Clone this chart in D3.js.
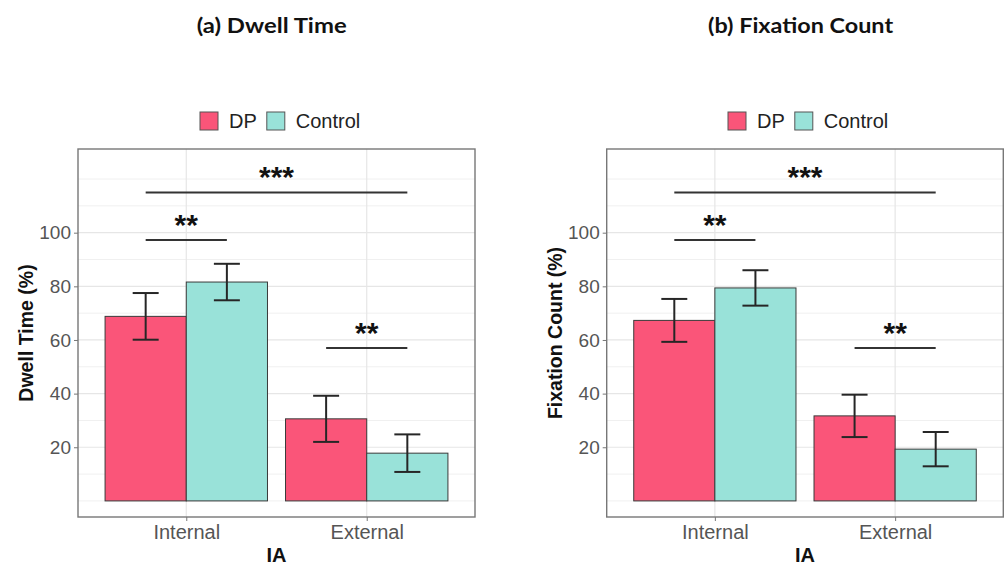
<!DOCTYPE html>
<html>
<head>
<meta charset="utf-8">
<script src="https://cdn.jsdelivr.net/npm/d3@7"></script>
<style>
  body { margin: 0; background: #fff; }
  svg { display: block; font-family: "Liberation Sans", Arial, sans-serif; }
</style>
</head>
<body>
<div id="chart"></div>
<script>
const categories = ["Internal", "External"];
const groups = ["DP", "Control"];

// (a) dwell time, mean and error half-width
const dwellDP = [68.8, 30.6];
const dwellDPErr = [8.7, 8.6];
const dwellControl = [81.6, 17.8];
const dwellControlErr = [6.8, 7.0];

// (b) fixation count
const fixDP = [67.3, 31.7];
const fixDPErr = [8.0, 7.9];
const fixControl = [79.4, 19.3];
const fixControlErr = [6.6, 6.4];

const yTicks = [20, 40, 60, 80, 100];
const gridTicks = [0, 10, 20, 30, 40, 50, 60, 70, 80, 90, 100, 110, 120];

const sigs = [
    { from: ["Internal", "DP"], to: ["External", "Control"], y: 115, label: "***" },
    { from: ["Internal", "DP"], to: ["Internal", "Control"], y: 97.3, label: "**" },
    { from: ["External", "DP"], to: ["External", "Control"], y: 57, label: "**" }
];

const colors = { DP: "#fa5579", Control: "#99e2d9" };

const panels = [
    { title: "(a) Dwell Time", titleX: 271.7, titleW: 150, yLabel: "Dwell Time (%)", yLabelX: 25.7,
      left: 78, right: 475, legendX: 200,
      series: { DP: [dwellDP, dwellDPErr], Control: [dwellControl, dwellControlErr] } },
    { title: "(b) Fixation Count", titleX: 800.6, titleW: 185, yLabel: "Fixation Count (%)", yLabelX: 555,
      left: 606.7, right: 1003.3, legendX: 728,
      series: { DP: [fixDP, fixDPErr], Control: [fixControl, fixControlErr] } }
];

const svg = d3.select("#chart")
    .append("svg")
    .attr("width", 1005)
    .attr("height", 565);

const plotTop = 149, plotBottom = 517;

panels.forEach(p => {
    const x = d3.scalePoint()
        .domain(categories)
        .range([p.left, p.right])
        .padding(0.6);
    const step = x.step();
    const xg = d3.scaleBand()
        .domain(groups)
        .range([-0.45 * step, 0.45 * step]);
    const bw = xg.bandwidth();

    const y = d3.scaleLinear()
        .domain([-6, 131.2])
        .range([plotBottom, plotTop]);

    const g = svg.append("g");

    // title
    g.append("text")
        .attr("x", p.titleX)
        .attr("y", 33)
        .attr("text-anchor", "middle")
        .attr("textLength", p.titleW)
        .attr("lengthAdjust", "spacingAndGlyphs")
        .style("font-family", "Lato, 'Open Sans', sans-serif")
        .style("font-weight", "bold")
        .style("font-size", "21px")
        .style("fill", "#111")
        .text(p.title);

    // grid
    g.selectAll(".hgrid")
        .data(gridTicks)
        .join("line")
        .attr("x1", p.left).attr("x2", p.right)
        .attr("y1", d => y(d)).attr("y2", d => y(d))
        .style("stroke", d => yTicks.includes(d) ? "#e6e6e6" : "#f0f0f0")
        .style("stroke-width", d => yTicks.includes(d) ? 1.2 : 1);

    g.selectAll(".vgrid")
        .data(categories)
        .join("line")
        .attr("x1", d => x(d)).attr("x2", d => x(d))
        .attr("y1", plotTop).attr("y2", plotBottom)
        .style("stroke", "#e6e6e6")
        .style("stroke-width", 1.2);

    // bars
    const rows = [];
    categories.forEach((c, i) => {
        groups.forEach(k => {
            rows.push({ cat: c, grp: k, v: p.series[k][0][i], e: p.series[k][1][i] });
        });
    });

    g.selectAll(".bar")
        .data(rows)
        .join("rect")
        .attr("x", d => x(d.cat) + xg(d.grp))
        .attr("y", d => y(d.v))
        .attr("width", bw)
        .attr("height", d => y(0) - y(d.v))
        .style("fill", d => colors[d.grp])
        .style("stroke", "#3a3a3a")
        .style("stroke-width", 1);

    // error bars
    const cap = bw * 0.32;
    const eb = g.selectAll(".err")
        .data(rows)
        .join("g")
        .attr("transform", d => `translate(${x(d.cat) + xg(d.grp) + bw / 2},0)`);
    eb.append("line")
        .attr("y1", d => y(d.v + d.e)).attr("y2", d => y(d.v - d.e));
    eb.append("line")
        .attr("x1", -cap / 2).attr("x2", cap / 2)
        .attr("y1", d => y(d.v + d.e)).attr("y2", d => y(d.v + d.e));
    eb.append("line")
        .attr("x1", -cap / 2).attr("x2", cap / 2)
        .attr("y1", d => y(d.v - d.e)).attr("y2", d => y(d.v - d.e));
    eb.selectAll("line")
        .style("stroke", "#262626")
        .style("stroke-width", 2);

    // significance brackets
    const cx = ([c, k]) => x(c) + xg(k) + bw / 2;
    g.selectAll(".sig")
        .data(sigs)
        .join("line")
        .attr("x1", d => cx(d.from)).attr("x2", d => cx(d.to))
        .attr("y1", d => y(d.y)).attr("y2", d => y(d.y))
        .style("stroke", "#333")
        .style("stroke-width", 2);
    g.selectAll(".sigtxt")
        .data(sigs)
        .join("text")
        .attr("x", d => (cx(d.from) + cx(d.to)) / 2)
        .attr("y", d => y(d.y) - 5)
        .attr("text-anchor", "middle")
        .style("font-size", "30px")
        .style("font-weight", "bold")
        .style("fill", "#111")
        .text(d => d.label);

    // panel border
    g.append("rect")
        .attr("x", p.left).attr("y", plotTop)
        .attr("width", p.right - p.left).attr("height", plotBottom - plotTop)
        .style("fill", "none")
        .style("stroke", "#777")
        .style("stroke-width", 1.4);

    // y axis
    g.append("g")
        .attr("transform", `translate(${p.left},0)`)
        .call(d3.axisLeft(y).tickValues(yTicks).tickSize(4).tickPadding(3))
        .call(a => a.select(".domain").remove())
        .call(a => a.selectAll("line").style("stroke", "#777"))
        .call(a => a.selectAll("text")
            .style("font-family", "'Liberation Sans', Arial, sans-serif")
            .style("font-size", "19px")
            .style("fill", "#555"));

    // x axis
    g.append("g")
        .attr("transform", `translate(0,${plotBottom})`)
        .call(d3.axisBottom(x).tickSize(4).tickPadding(4))
        .call(a => a.select(".domain").remove())
        .call(a => a.selectAll("line").style("stroke", "#777"))
        .call(a => a.selectAll("text")
            .style("font-family", "'Liberation Sans', Arial, sans-serif")
            .style("font-size", "20px")
            .style("fill", "#555"));

    // axis titles
    g.append("text")
        .attr("x", (p.left + p.right) / 2)
        .attr("y", 562)
        .attr("text-anchor", "middle")
        .style("font-weight", "bold")
        .style("font-size", "20px")
        .style("fill", "#111")
        .text("IA");

    g.append("text")
        .attr("transform", `translate(${p.yLabelX},333) rotate(-90)`)
        .attr("text-anchor", "middle")
        .attr("dy", "0.35em")
        .style("font-weight", "bold")
        .style("font-size", "19.5px")
        .style("fill", "#111")
        .text(p.yLabel);

    // legend
    const leg = g.append("g").attr("transform", `translate(${p.legendX},112)`);
    let lx = 0;
    groups.forEach(k => {
        const item = leg.append("g").attr("transform", `translate(${lx},0)`);
        item.append("rect")
            .attr("width", 18).attr("height", 18)
            .style("fill", colors[k])
            .style("stroke", "#555")
            .style("stroke-width", 1);
        const t = item.append("text")
            .attr("x", 29).attr("y", 16)
            .style("font-size", "20px")
            .style("fill", "#222")
            .text(k);
        lx += 29 + t.node().getComputedTextLength() + 10;
    });
});
</script>
</body>
</html>
